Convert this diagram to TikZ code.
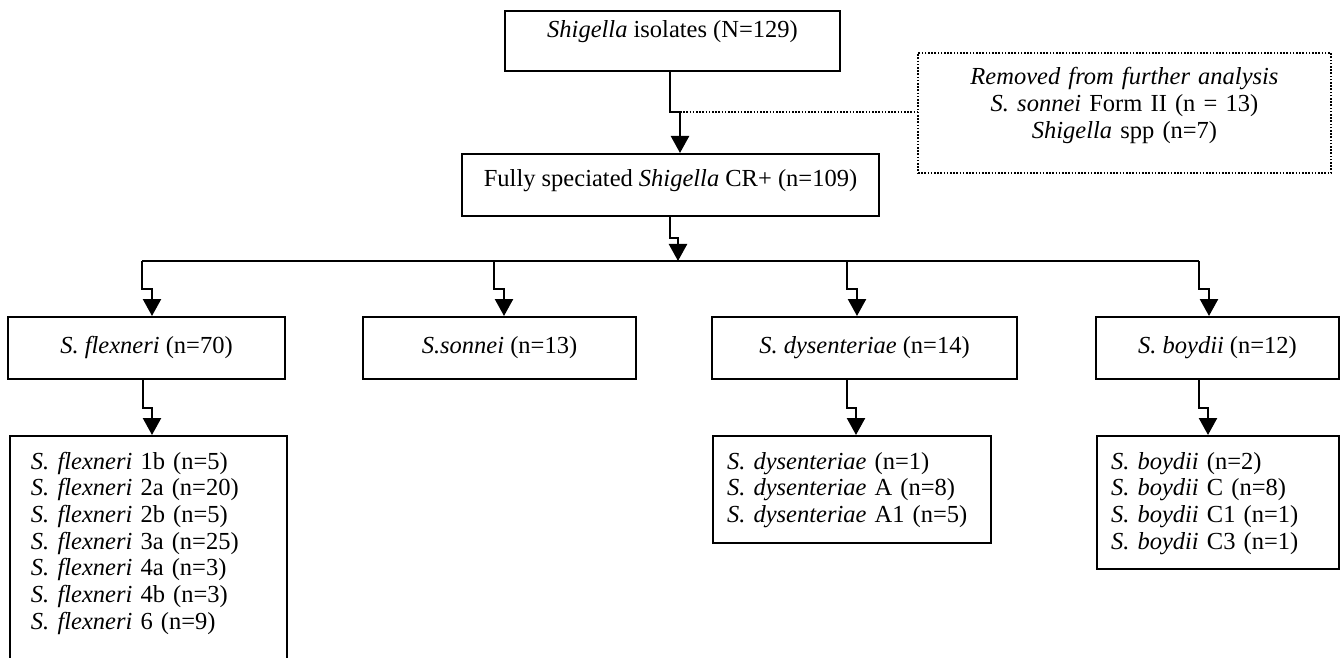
\documentclass[tikz,border=0pt]{standalone}
\usepackage{fontspec}
\setmainfont{Liberation Serif}
\usetikzlibrary{arrows.meta,positioning,calc}

\begin{document}
\begin{tikzpicture}[x=0.5pt, y=-0.5pt,
    box/.style={draw, line width=1pt, inner sep=0pt,
        font=\fontsize{12.25}{13.35}\selectfont, text height=9pt, text depth=4pt},
    dotbox/.style={box, dash pattern=on 0.8pt off 0.8pt, align=center,
        text width=200pt, text depth=37pt},
    listbox/.style={draw, line width=1pt, anchor=north west, align=left,
        inner xsep=10.5pt, inner ysep=7.5pt, text height=9pt,
        font=\fontsize{12.25}{13.35}\selectfont},
    link/.style={line width=1.2pt},
    arr/.style={link, -{Triangle[width=9pt,length=8.5pt]}},
    dotlink/.style={line width=1pt, dash pattern=on 0.8pt off 0.8pt}]

    \clip (0,0) rectangle (1340,658);

    % Top of the flow
    \node[box, minimum width=167.5pt, minimum height=30pt, text depth=12pt]
        (isolates) at (672.5,41) {\textit{Shigella} isolates (N=129)};
    \node[dotbox, minimum width=206.5pt, minimum height=60pt]
        (removed) at (1124.5,113) {\textit{Removed from further analysis}\\
        \textit{S. sonnei} Form II (n = 13)\\ \textit{Shigella} spp (n=7)};
    \node[box, minimum width=208.5pt, minimum height=31pt, text depth=8pt]
        (full) at (670.5,185) {Fully speciated \textit{Shigella} CR+ (n=109)};

    % Species
    \node[box, minimum width=138.5pt, minimum height=31pt]
        (flex) at (146.5,348) {\textit{S. flexneri} (n=70)};
    \node[box, minimum width=136.5pt, minimum height=31pt]
        (sonnei) at (499.5,348) {\textit{S.sonnei} (n=13)};
    \node[box, minimum width=152.5pt, minimum height=31pt]
        (dys) at (864.5,348) {\textit{S. dysenteriae} (n=14)};
    \node[box, minimum width=121.5pt, minimum height=31pt]
        (boyd) at (1217.5,348) {\textit{S. boydii} (n=12)};

    % Serotypes
    \node[listbox, text width=117.5pt, text depth=130pt] (flex-list) at (9,435)
        {\textit{S. flexneri} 1b (n=5)\\ \textit{S. flexneri} 2a (n=20)\\
         \textit{S. flexneri} 2b (n=5)\\ \textit{S. flexneri} 3a (n=25)\\
         \textit{S. flexneri} 4a (n=3)\\ \textit{S. flexneri} 4b (n=3)\\
         \textit{S. flexneri} 6 (n=9)};
    \node[listbox, inner xsep=7pt, text width=125pt] (dys-list) at (712,435)
        {\textit{S. dysenteriae} (n=1)\\ \textit{S. dysenteriae} A (n=8)\\
         \textit{S. dysenteriae} A1 (n=5)};
    \node[listbox, inner xsep=7pt, text width=107pt] (boyd-list) at (1096,435)
        {\textit{S. boydii} (n=2)\\ \textit{S. boydii} C (n=8)\\
         \textit{S. boydii} C1 (n=1)\\ \textit{S. boydii} C3 (n=1)};

    % Connectors
    \coordinate (j1) at (670,112);
    \draw[arr] (isolates.south -| j1) -- (j1) -- ++(10,0) coordinate (j1b)
        -- (j1b |- full.north);
    \draw[dotlink] (j1b) -- (j1b -| removed.west);

    \coordinate (busw) at (142,261);
    \coordinate (buse) at (1199,261);
    \draw[link] (busw) -- (buse);
    \coordinate (j2) at (670,238);
    \draw[arr] (full.south -| j2) -- (j2) -- ++(8,0) coordinate (j2b)
        -- (j2b |- busw);

    \foreach \b/\x in {flex/142, sonnei/494, dys/847, boyd/1199}
        \draw[arr] (\x,261) -- (\x,289) -- ++(10,0) coordinate (jb)
            -- (jb |- \b.north);

    \foreach \b/\x in {flex/143, dys/847, boyd/1199} {
        \coordinate (c) at (\x,0);
        \draw[arr] (\b.south -| c) -- ++(0,28) -- ++(9,0) coordinate (jb)
            -- (jb |- \b-list.north);
    }

\end{tikzpicture}
\end{document}
